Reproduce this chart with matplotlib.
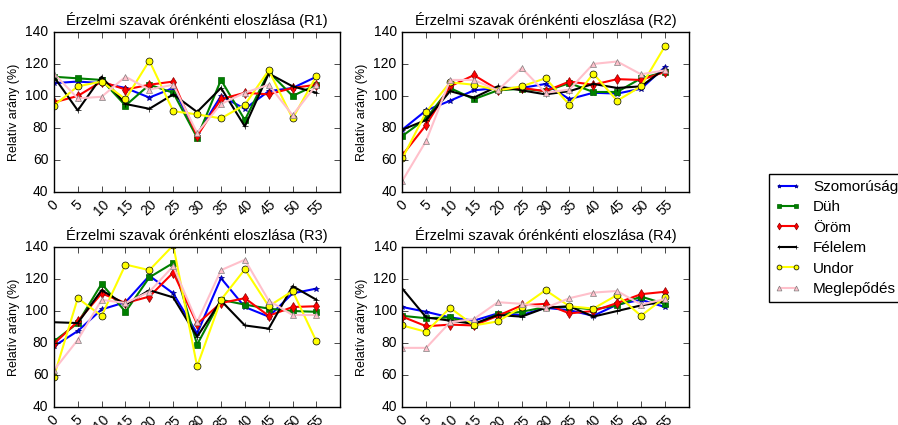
import numpy as np
import matplotlib
matplotlib.use("Agg")
import matplotlib.pyplot as plt

plt.style.use('classic')
plt.rcParams['font.family'] = ['Liberation Sans', 'DejaVu Sans']
plt.rcParams['figure.facecolor'] = 'white'

# Órák (x tengely)
hours = [0, 5, 10, 15, 20, 25, 30, 35, 40, 45, 50, 55]
emotions = ["Szomorúság", "Düh", "Öröm", "Félelem", "Undor", "Meglepődés"]
regions = ["R1", "R2", "R3", "R4"]

# R1
r1_szomorusag = [108, 109, 108, 105, 99, 105, 76, 100, 92, 103, 105, 112]
r1_duh = [112, 111, 110, 94, 107, 102, 74, 110, 85, 115, 100, 107]
r1_orom = [96, 100, 109, 104, 107, 109, 75, 98, 102, 101, 105, 107]
r1_felelem = [112, 91, 112, 95, 92, 101, 90, 105, 81, 114, 106, 102]
r1_undor = [94, 106, 109, 98, 122, 90.5, 88.5, 86, 94.5, 116, 86, 112.5]
r1_meglepodes = [114, 98.5, 99.5, 112, 104, 107, 77, 95, 102, 107, 88, 107]

# R2
r2_szomorusag = [79, 91, 97, 103.5, 105, 105, 107.5, 98, 102, 101.5, 104.5, 118]
r2_duh = [75, 86, 105, 98, 103.5, 104.5, 103, 108, 102.5, 102.5, 111, 115]
r2_orom = [63, 82, 106, 113, 104, 105, 103, 109, 107, 110.5, 110, 115]
r2_felelem = [79, 85, 103, 99, 106, 103.5, 101, 103, 107.5, 105, 106, 117]
r2_undor = [61, 90, 108.5, 107, 103.5, 106, 111, 94.5, 114, 97, 106, 131]
r2_meglepodes = [47, 72, 110, 110, 103.5, 117.5, 102, 104, 120, 121.5, 113.5, 116]

# R3
r3_szomorusag = [78, 87.5, 101, 105.5, 122, 111, 86, 120.5, 102.5, 96.5, 111, 114]
r3_duh = [81, 92.5, 117, 99.5, 121, 130, 79, 107, 104, 101.5, 100, 99.5]
r3_orom = [79.5, 93.5, 111, 105, 109, 124, 92, 105, 108, 97, 102.5, 103]
r3_felelem = [93, 92.5, 113, 104, 113, 108.5, 84, 106.5, 91, 89, 115.5, 107]
r3_undor = [59, 108, 97, 129, 125.5, 141, 65.5, 107, 126, 103, 112.5, 81]
r3_meglepodes = [63, 82, 107, 105, 112, 128, 93, 125.5, 132, 106.5, 97.5, 97.5]

# R4
r4_szomorusag = [102.5, 99.5, 96, 94, 98.5, 97.5, 102, 100.5, 97, 104, 107, 102.5]
r4_duh = [97, 95.5, 96, 91.5, 98, 99.5, 102.5, 102.5, 101, 103.5, 109, 104.5]
r4_orom = [96.5, 90.5, 91.5, 91, 97, 103.5, 104.5, 98.5, 100, 105, 110.5, 112]
r4_felelem = [114, 96, 94, 92, 97.5, 96.5, 102, 103, 96.5, 100, 103.5, 106]
r4_undor = [91, 87, 102, 91, 93.5, 102.5, 113, 103, 101.5, 110, 97, 108.5]
r4_meglepodes = [77, 77, 93, 95, 105.5, 104.5, 102, 108, 111.5, 112.5, 104, 107.5]

adatok = [
    [r1_szomorusag, r1_duh, r1_orom, r1_felelem, r1_undor, r1_meglepodes],
    [r2_szomorusag, r2_duh, r2_orom, r2_felelem, r2_undor, r2_meglepodes],
    [r3_szomorusag, r3_duh, r3_orom, r3_felelem, r3_undor, r3_meglepodes],
    [r4_szomorusag, r4_duh, r4_orom, r4_felelem, r4_undor, r4_meglepodes],
]

stilusok = [
    dict(color='blue', marker='*', ms=4, mec='navy'),
    dict(color='green', marker='s', ms=5, mec='darkgreen'),
    dict(color='red', marker='d', ms=5, mec='darkred'),
    dict(color='black', marker='+', ms=4, mec='black'),
    dict(color='yellow', marker='o', ms=5, mec='black', mfc='yellow'),
    dict(color='pink', marker='^', ms=5, mec='gray', mfc='pink'),
]

fig = plt.figure(figsize=(8.98, 4.25), dpi=100)
pozicio = [
    [0.060, 0.548, 0.319, 0.377],
    [0.448, 0.548, 0.319, 0.377],
    [0.060, 0.042, 0.319, 0.377],
    [0.448, 0.042, 0.319, 0.377],
]

for k, reg in enumerate(regions):
    ax = fig.add_axes(pozicio[k])
    for i, em in enumerate(emotions):
        ax.plot(hours, adatok[k][i], lw=1.5, label=em, **stilusok[i])
    ax.set_xlim(0, 60)
    ax.set_ylim(40, 140)
    ax.set_xticks(hours)
    ax.set_xticklabels([str(h) for h in hours], rotation=45, fontsize=10)
    ax.set_yticks([40, 60, 80, 100, 120, 140])
    ax.tick_params(axis='y', labelsize=10)
    ax.set_title(f"Érzelmi szavak órénkénti eloszlása ({reg})", fontsize=10.5)
    ax.set_ylabel("Relatív arány (%)", fontsize=9, labelpad=4)
    if k == 0:
        handles, labels = ax.get_legend_handles_labels()

fig.legend(handles, labels, loc='upper left', bbox_to_anchor=(0.856, 0.591),
           fontsize=11, numpoints=2, handlelength=1.7, labelspacing=0.42,
           borderaxespad=0.0, markerscale=0.7)

plt.savefig("out.png", dpi=100)
